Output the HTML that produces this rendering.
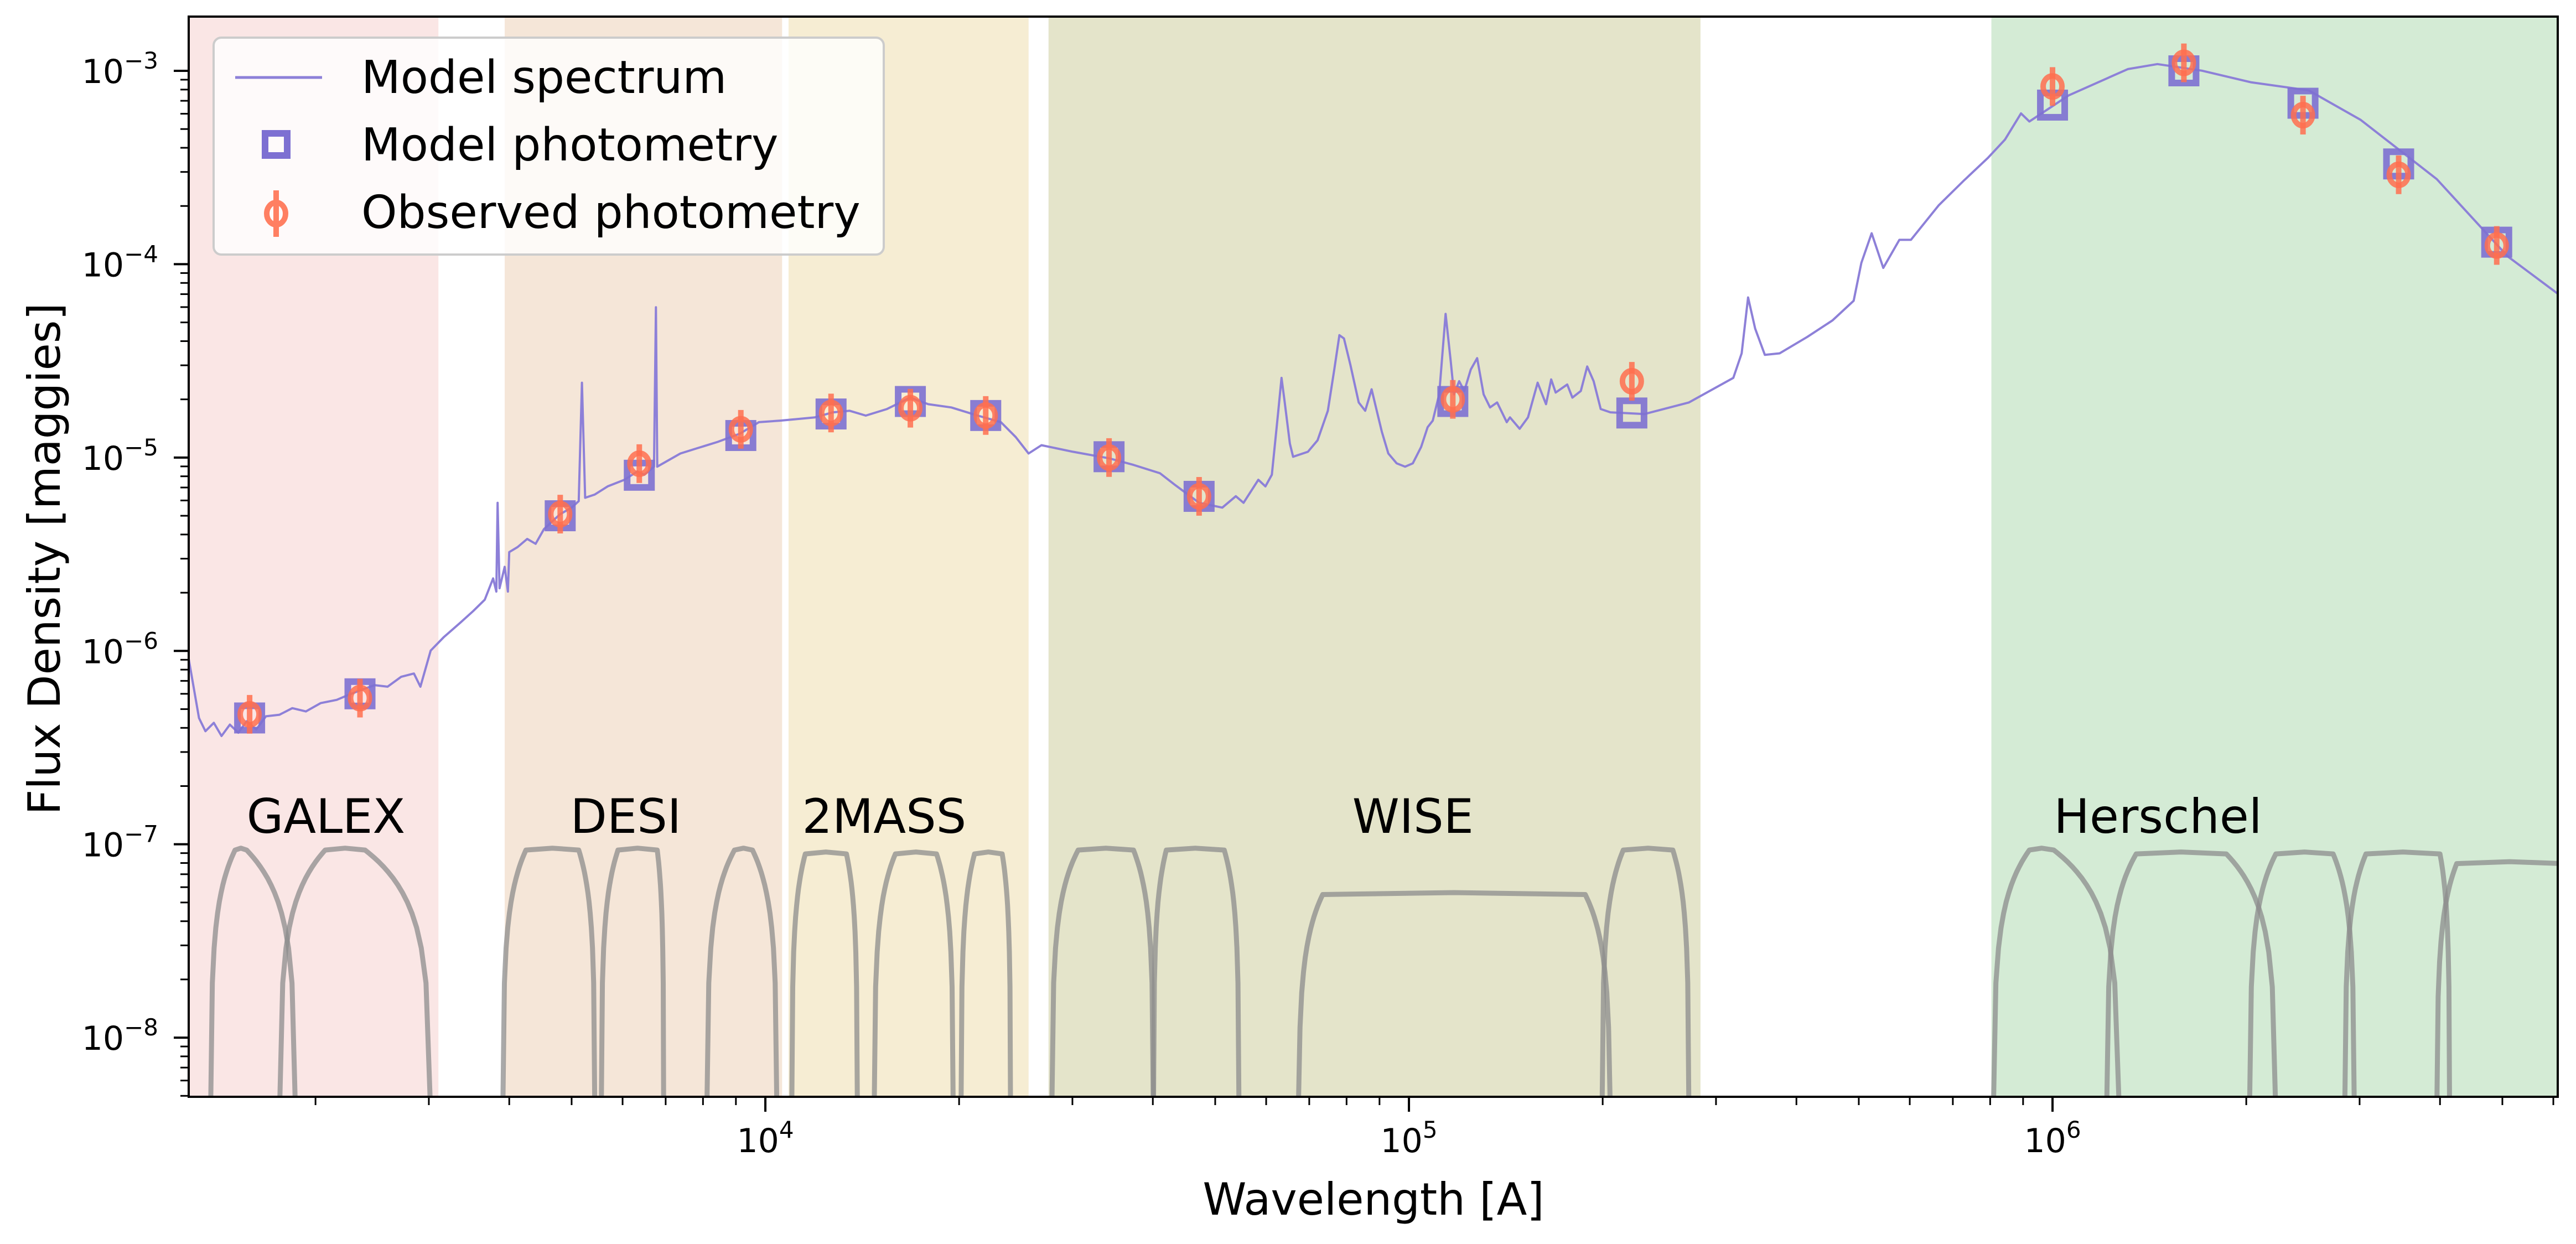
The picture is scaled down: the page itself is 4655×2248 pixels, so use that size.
<!DOCTYPE html>
<html><head><meta charset="utf-8"><style>
html,body{margin:0;padding:0;background:#fff;overflow:hidden;width:4655px;height:2248px;}
svg{display:block;font-family:"DejaVu Sans","Liberation Sans",sans-serif;}
</style></head><body>
<svg id="chart" width="4655" height="2248" viewBox="0 0 4655 2248" xmlns="http://www.w3.org/2000/svg">
<defs><clipPath id="plotclip"><rect x="341" y="30" width="4281" height="1952"/></clipPath></defs>
<g id="bands" clip-path="url(#plotclip)"></g>
<g id="filters" clip-path="url(#plotclip)"></g>
<g id="spec" clip-path="url(#plotclip)"></g>
<g id="phot" clip-path="url(#plotclip)"></g>
<g id="labels"></g>
<g id="axes"></g>
<g id="legend">
 <rect x="386" y="68" width="1211" height="392" rx="14" fill="#fff" fill-opacity="0.8" stroke="#cccccc" stroke-width="4"/>
 <line x1="425" y1="140" x2="582" y2="140" stroke="#8d80d8" stroke-width="5"/>
 <text x="653" y="168" font-size="82">Model spectrum</text>
 <rect x="479" y="241" width="40" height="40" fill="none" stroke="#7d70d2" stroke-width="12"/>
 <text x="653" y="290" font-size="82">Model photometry</text>
 <line x1="499" y1="344" x2="499" y2="428" stroke="#ff7f62" stroke-width="10"/>
 <ellipse cx="499" cy="386" rx="17" ry="20" fill="none" stroke="#ff7f62" stroke-width="10"/>
 <text x="653" y="412" font-size="82">Observed photometry</text>
</g>
</svg>
<script>
// ---- data ----
const bandNames = ["GALEX","DESI","2MASS","WISE","Herschel"];
const bandLo = [3.104, 3.595, 4.036, 4.440, 5.905];
const bandHi = [3.492, 4.026, 4.409, 5.453, 6.80];
const bandColors = ["#fae6e5","#f5e6d8","#f6edd3","#e4e4ca","#d4ebd5"];
const bandLabelX = [3.194, 3.697, 4.057, 4.912, 6.002];

const photLam = [1580, 2345, 4800, 6370, 9160, 12650, 16800, 22000, 34200, 47200, 117000, 222000, 1.0e6, 1.6e6, 2.45e6, 3.45e6, 4.9e6];
const modelFlux = [4.5e-7, 6.0e-7, 5.0e-6, 8.1e-6, 1.3e-5, 1.68e-5, 1.95e-5, 1.65e-5, 1.01e-5, 6.3e-6, 1.95e-5, 1.7e-5, 6.65e-4, 1.0e-3, 6.8e-4, 3.3e-4, 1.3e-4];
const obsFlux = [4.7e-7, 5.7e-7, 5.1e-6, 9.3e-6, 1.4e-5, 1.7e-5, 1.8e-5, 1.65e-5, 1.0e-5, 6.3e-6, 2.0e-5, 2.48e-5, 8.3e-4, 1.1e-3, 5.9e-4, 2.9e-4, 1.25e-4];
const obsErrDex = [0.1, 0.1, 0.1, 0.1, 0.1, 0.1, 0.1, 0.1, 0.1, 0.1, 0.1, 0.1, 0.1, 0.1, 0.1, 0.1, 0.1];

const specLogLam = [3.104,3.120,3.130,3.143,3.155,3.168,3.181,3.194,3.209,3.224,3.245,3.265,3.286,3.309,3.334,3.352,3.372,3.393,3.413,3.434,3.454,3.464,3.480,3.500,3.526,3.546,3.564,3.577,3.582,3.584,3.587,3.595,3.600,3.602,3.615,3.630,3.643,3.656,3.681,3.699,3.710,3.715,3.720,3.735,3.755,3.781,3.801,3.812,3.827,3.830,3.832,3.850,3.868,3.893,3.926,3.960,3.990,4.023,4.052,4.077,4.105,4.131,4.156,4.189,4.225,4.253,4.289,4.330,4.366,4.389,4.409,4.429,4.478,4.534,4.572,4.613,4.636,4.674,4.710,4.731,4.743,4.766,4.777,4.787,4.797,4.802,4.807,4.815,4.820,4.843,4.858,4.874,4.884,4.892,4.899,4.909,4.922,4.932,4.942,4.950,4.958,4.968,4.981,4.994,5.006,5.019,5.029,5.037,5.047,5.057,5.065,5.070,5.078,5.086,5.096,5.106,5.116,5.126,5.137,5.152,5.157,5.172,5.185,5.200,5.213,5.221,5.228,5.246,5.254,5.267,5.277,5.287,5.298,5.313,5.366,5.435,5.504,5.517,5.527,5.538,5.553,5.576,5.619,5.658,5.691,5.703,5.719,5.737,5.762,5.780,5.823,5.862,5.900,5.926,5.951,5.964,6.025,6.117,6.163,6.232,6.308,6.398,6.479,6.597,6.707,6.786];
const specLogF = [-6.041,-6.347,-6.415,-6.372,-6.440,-6.381,-6.423,-6.364,-6.406,-6.338,-6.330,-6.296,-6.313,-6.270,-6.253,-6.228,-6.202,-6.177,-6.185,-6.134,-6.117,-6.185,-5.998,-5.930,-5.854,-5.794,-5.735,-5.625,-5.693,-5.234,-5.676,-5.565,-5.693,-5.489,-5.463,-5.421,-5.446,-5.370,-5.293,-5.259,-5.225,-4.613,-5.208,-5.191,-5.149,-5.115,-5.072,-5.089,-5.047,-4.223,-5.047,-5.013,-4.979,-4.953,-4.919,-4.877,-4.817,-4.809,-4.800,-4.792,-4.766,-4.758,-4.783,-4.749,-4.690,-4.724,-4.741,-4.783,-4.817,-4.894,-4.979,-4.936,-4.970,-5.004,-5.038,-5.081,-5.140,-5.234,-5.259,-5.200,-5.234,-5.115,-5.149,-5.089,-4.758,-4.588,-4.715,-4.928,-4.996,-4.970,-4.911,-4.758,-4.545,-4.367,-4.384,-4.520,-4.715,-4.758,-4.647,-4.758,-4.868,-4.979,-5.030,-5.047,-5.030,-4.945,-4.843,-4.809,-4.673,-4.257,-4.503,-4.673,-4.605,-4.656,-4.545,-4.486,-4.673,-4.741,-4.715,-4.817,-4.792,-4.851,-4.792,-4.613,-4.724,-4.596,-4.664,-4.622,-4.690,-4.656,-4.529,-4.605,-4.749,-4.766,-4.775,-4.715,-4.588,-4.461,-4.172,-4.333,-4.469,-4.461,-4.376,-4.291,-4.189,-3.993,-3.840,-4.019,-3.874,-3.874,-3.696,-3.568,-3.449,-3.356,-3.220,-3.262,-3.127,-2.991,-2.965,-2.999,-3.059,-3.101,-3.254,-3.560,-3.959,-4.155];

const filterNames = ["FUV","NUV","g","r","z","J","H","Ks","W1","W2","W3","W4","PACS70","PACS100","PACS160","SPIRE250","SPIRE350"];
const filterLo = [3.138,3.245,3.592,3.745,3.909,4.041,4.169,4.304,4.445,4.603,4.828,5.300,5.908,6.084,6.306,6.454,6.597];
const filterPeakLo = [3.176,3.316,3.628,3.771,3.952,4.062,4.202,4.325,4.486,4.623,4.866,5.333,5.964,6.130,6.347,6.487,6.628];
const filterPeakHi = [3.194,3.378,3.710,3.832,3.980,4.126,4.266,4.368,4.572,4.713,5.274,5.410,6.002,6.270,6.436,6.602,6.793];
const filterHi = [3.270,3.480,3.735,3.842,4.018,4.143,4.292,4.381,4.603,4.736,5.313,5.435,6.104,6.347,6.469,6.617,6.896];
const filterPeak = [-7.03,-7.03,-7.03,-7.03,-7.03,-7.05,-7.05,-7.05,-7.03,-7.03,-7.26,-7.03,-7.03,-7.05,-7.05,-7.05,-7.10];

const xTickExp = [4,5,6];
const yTickExp = [-3,-4,-5,-6,-7,-8];

// ---- scales ----
const X0=341, X1=4622, Y0=30, Y1=1982;
const XMIN=3.104, XMAX=6.785, YMIN=-8.306, YMAX=-2.7195;
const sx = l => X0 + (l - XMIN)/(XMAX - XMIN)*(X1 - X0);
const sy = f => Y1 - (f - YMIN)/(YMAX - YMIN)*(Y1 - Y0);
const NS="http://www.w3.org/2000/svg";
function mk(tag, attrs, parent){const e=document.createElementNS(NS,tag);for(const k in attrs)e.setAttribute(k,attrs[k]);parent.appendChild(e);return e;}

// bands
const gB=document.getElementById('bands');
bandNames.forEach((n,i)=>{
  const r=mk('rect',{x:sx(bandLo[i]),y:Y0,width:sx(bandHi[i])-sx(bandLo[i]),height:Y1-Y0,fill:bandColors[i]},gB);
  
  
});
// filters
const gF=document.getElementById('filters');
filterNames.forEach((n,i)=>{
  const pts=[]; const lo=filterLo[i],pl=filterPeakLo[i],ph=filterPeakHi[i],hi=filterHi[i],pk=filterPeak[i];
  const N=14;
  pts.push([lo,-8.4]);
  for(let k=1;k<=N;k++){const t=k/N;pts.push([lo+(pl-lo)*t, Math.max(-8.4, pk+Math.log10(Math.pow(t,0.6)))]);}
  pts.push([(pl+ph)/2, pk+0.01]);
  for(let k=N;k>=1;k--){const t=k/N;pts.push([hi-(hi-ph)*t, Math.max(-8.4, pk+Math.log10(Math.pow(t,0.6)))]);}
  pts.push([hi,-8.4]);
  const p=mk('polyline',{points:pts.map(q=>sx(q[0]).toFixed(1)+','+sy(q[1]).toFixed(1)).join(' '),fill:'none',stroke:'#8c8c8c','stroke-opacity':0.75,'stroke-width':9,'stroke-linejoin':'round'},gF);
  
  
});
// spectrum
const gS=document.getElementById('spec');
const sp=mk('polyline',{points:specLogLam.map((l,i)=>sx(l).toFixed(1)+','+sy(specLogF[i]).toFixed(1)).join(' '),fill:'none',stroke:'#8d80d8','stroke-width':4,'stroke-linejoin':'round'},gS);


// photometry
const gP=document.getElementById('phot');
photLam.forEach((l,i)=>{
  const x=sx(Math.log10(l)), ym=sy(Math.log10(modelFlux[i]));
  const sq=mk('rect',{x:x-22,y:ym-22,width:44,height:44,fill:'none',stroke:'#7d70d2','stroke-opacity':0.9,'stroke-width':12},gP);
  
  
});
photLam.forEach((l,i)=>{
  const x=sx(Math.log10(l)), lf=Math.log10(obsFlux[i]), yo=sy(lf);
  const eb=mk('line',{x1:x,x2:x,y1:sy(lf+obsErrDex[i]),y2:sy(lf-obsErrDex[i]),stroke:'#ff6f4f','stroke-opacity':0.85,'stroke-width':10},gP);
  
  
  const c=mk('ellipse',{cx:x,cy:yo,rx:17,ry:19,fill:'none',stroke:'#ff6f4f','stroke-opacity':0.85,'stroke-width':10},gP);
  
  
});
// band labels
const gL=document.getElementById('labels');
bandNames.forEach((n,i)=>{
  const t=mk('text',{x:sx(bandLabelX[i]),y:1505,'font-size':86,fill:'#000'},gL);
  t.textContent=n;
  
  
});
// axes
const gA=document.getElementById('axes');
const fr=mk('rect',{x:X0,y:Y0,width:X1-X0,height:Y1-Y0,fill:'none',stroke:'#000','stroke-width':4},gA);


for(let e=3;e<=6;e++){for(let m=1;m<10;m++){const l=e+Math.log10(m);if(l<XMIN||l>XMAX)continue;const x=sx(l);
  const tk=mk('line',{x1:x,x2:x,y1:Y1,y2:Y1+(m===1?27:15),stroke:'#000','stroke-width':m===1?4:3},gA);
  
  }}
xTickExp.forEach(e=>{const t=mk('text',{x:sx(e),y:2082,'font-size':60,'text-anchor':'middle'},gA);
  t.innerHTML='10<tspan dy="-26" font-size="42">'+e+'</tspan>';
  
  });
for(let e=-9;e<=-2;e++){for(let m=1;m<10;m++){const l=e+Math.log10(m);if(l<YMIN||l>YMAX)continue;const y=sy(l);
  const tk=mk('line',{x1:X0,x2:X0-(m===1?27:15),y1:y,y2:y,stroke:'#000','stroke-width':m===1?4:3},gA);
  
  }}
yTickExp.forEach(e=>{const t=mk('text',{x:286,y:sy(e)+22,'font-size':60,'text-anchor':'end'},gA);
  t.innerHTML='10<tspan dy="-26" font-size="42">\u2212'+(-e)+'</tspan>';
  
  });
const xl=mk('text',{x:2482,y:2195,'font-size':80,'text-anchor':'middle'},gA);
xl.textContent='Wavelength [A]';


const yl=mk('text',{x:0,y:0,'font-size':80,'text-anchor':'middle',transform:'translate(108,1010) rotate(-90)'},gA);
yl.textContent='Flux Density [maggies]';


</script>
</body></html>
